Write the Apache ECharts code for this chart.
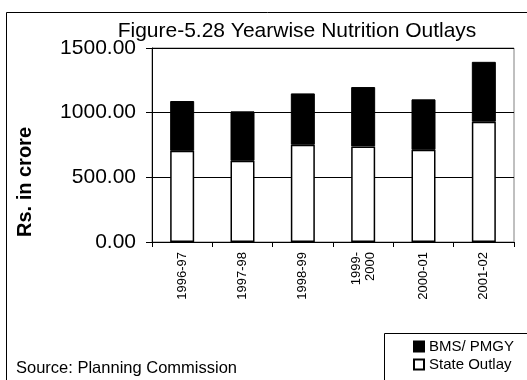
<!DOCTYPE html>
<html>
<head>
<meta charset="utf-8">
<script src="https://cdn.jsdelivr.net/npm/echarts@6/dist/echarts.min.js"></script>
<style>
  html, body { margin: 0; padding: 0; background: #fff; }
  #chart { width: 527px; height: 380px; }
</style>
</head>
<body>
<div id="chart"></div>
<script>
var years = ['1996-97', '1997-98', '1998-99', '1999-\n2000', '2000-01', '2001-02'];
var stateOutlay = [705, 628, 752, 739, 713, 930];
var bmsPmgy = [385, 382, 397, 459, 390, 463];
var yTicks = [0, 500, 1000, 1500];

var font = 'Liberation Sans, Arial, sans-serif';
var chart = echarts.init(document.getElementById('chart'));

var option = {
    animation: false,
    backgroundColor: '#fff',
    textStyle: { fontFamily: font, color: '#000' },
    title: {
        text: 'Figure-5.28 Yearwise Nutrition Outlays',
        left: 292,
        textAlign: 'center',
        top: 16,
        textStyle: { fontSize: 21, fontWeight: 'normal', color: '#000', fontFamily: font }
    },
    grid: {
        left: 152, right: 13, top: 48, bottom: 138,
        show: true, borderColor: '#808080', borderWidth: 1
    },
    legend: {
        orient: 'vertical',
        left: 408,
        top: 334,
        itemWidth: 10,
        itemHeight: 10,
        itemGap: 3,
        icon: 'rect',
        data: ['BMS/ PMGY', 'State Outlay'],
        textStyle: { fontSize: 15, color: '#000', fontFamily: font }
    },
    xAxis: {
        type: 'category',
        data: years,
        axisLine: { lineStyle: { color: '#000', width: 1 } },
        axisTick: { show: true, length: 5, lineStyle: { color: '#000' } },
        axisLabel: {
            rotate: 90, fontSize: 13, color: '#000', margin: 10,
            lineHeight: 14, fontFamily: font
        }
    },
    yAxis: {
        type: 'value',
        min: yTicks[0],
        max: yTicks[yTicks.length - 1],
        interval: 500,
        axisLine: { show: true, lineStyle: { color: '#000', width: 1 } },
        axisTick: { show: true, length: 6, lineStyle: { color: '#000' } },
        axisLabel: {
            fontSize: 21, color: '#000', margin: 16, fontFamily: font,
            formatter: function (v) { return v.toFixed(2); }
        },
        splitLine: { show: true, lineStyle: { color: '#000', width: 1 } }
    },
    series: [
        {
            name: 'State Outlay',
            type: 'bar',
            stack: 'total',
            barWidth: 24,
            data: stateOutlay,
            itemStyle: { color: '#fff', borderColor: '#000', borderWidth: 1.5 }
        },
        {
            name: 'BMS/ PMGY',
            type: 'bar',
            stack: 'total',
            barWidth: 24,
            data: bmsPmgy,
            itemStyle: { color: '#000', borderColor: '#000', borderWidth: 1 }
        }
    ],
    graphic: [
        {
            type: 'rect',
            shape: { x: 6.5, y: 12.5, width: 700, height: 700 },
            style: { fill: 'none', stroke: '#000', lineWidth: 1 },
            z: 100
        },
        {
            type: 'rect',
            shape: { x: 384.5, y: 333.5, width: 300, height: 100 },
            style: { fill: 'none', stroke: '#000', lineWidth: 1 },
            z: 100
        },
        {
            type: 'text',
            x: 25,
            y: 182,
            rotation: Math.PI / 2,
            style: {
                text: 'Rs. in crore',
                fontSize: 20,
                fontWeight: 'bold',
                fontFamily: font,
                fill: '#000',
                align: 'center',
                verticalAlign: 'middle'
            }
        },
        {
            type: 'text',
            x: 16,
            y: 368,
            style: {
                text: 'Source: Planning Commission',
                fontSize: 16.5,
                fontFamily: font,
                fill: '#000',
                align: 'left',
                verticalAlign: 'middle'
            }
        }
    ]
};

chart.setOption(option);
</script>
</body>
</html>
